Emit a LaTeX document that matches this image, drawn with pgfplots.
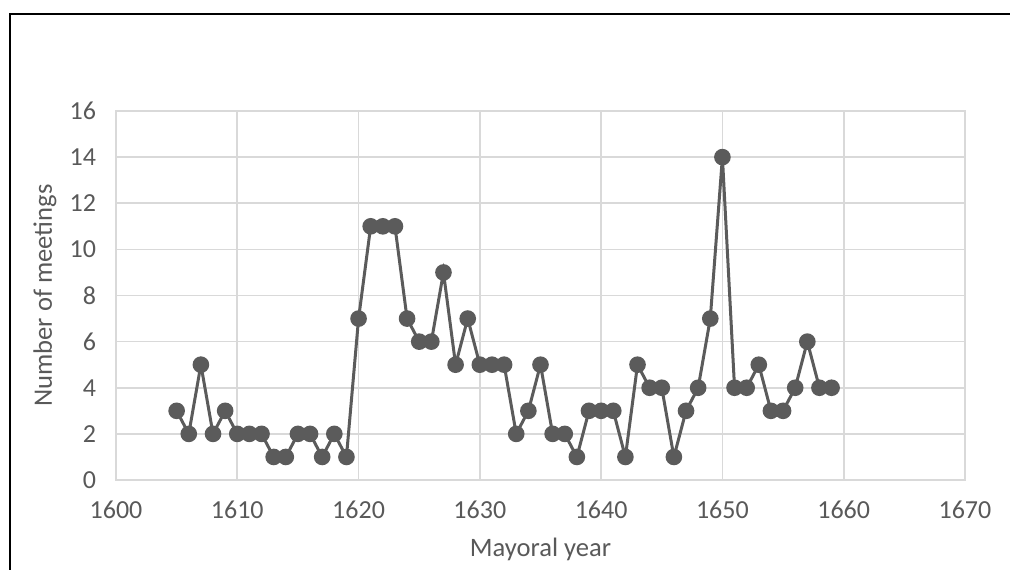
\documentclass[border=0pt]{standalone}
\usepackage{pgfplots}
\pgfplotsset{compat=1.18}
\usepackage{fontspec}
\setmainfont{Carlito}
\definecolor{txt}{HTML}{595959}
\definecolor{grd}{HTML}{D9D9D9}
\definecolor{ln}{HTML}{5B5B5B}
\begin{document}
\begin{tikzpicture}[x=0.5pt,y=0.5pt]
\useasboundingbox (0,0) rectangle (1010,569);
\begin{scope}
\clip (0,0) rectangle (1010,569);
\draw[black,line width=1.2pt] (10,-20) -- (10,555) -- (1030,555);
\end{scope}
\begin{axis}[
  at={(58pt,44.5pt)}, anchor=south west,
  scale only axis, width=424.5pt, height=184.5pt,
  xmin=1600, xmax=1670, ymin=0, ymax=16,
  xtick={1600,1610,...,1670}, ytick={0,2,...,16},
  grid=major, major grid style={grd, line width=0.8pt},
  axis line style={grd, line width=0.8pt},
  tick style={draw=none},
  /pgf/number format/assume math mode=true,
  /pgf/number format/set thousands separator={},
  ticklabel style={font=\fontsize{13}{15}\selectfont, text=txt},
  xticklabel style={yshift=-7pt},
  yticklabel style={xshift=-6.5pt},
  xlabel={Mayoral year}, ylabel={Number of meetings},
  label style={font=\fontsize{13.3}{16}\selectfont, text=txt},
  xlabel style={at={(axis description cs:0.5,-0.187)}, anchor=center},
  ylabel style={at={(axis description cs:-0.0836,0.5)}, anchor=center, rotate=0},
]
\addplot[ln, line width=1.5pt, mark=*, mark size=3.4pt, mark options={fill=ln, draw=ln}] coordinates {
(1605,3)(1606,2)(1607,5)(1608,2)(1609,3)(1610,2)(1611,2)(1612,2)(1613,1)(1614,1)
(1615,2)(1616,2)(1617,1)(1618,2)(1619,1)(1620,7)(1621,11)(1622,11)(1623,11)(1624,7)
(1625,6)(1626,6)(1627,9)(1628,5)(1629,7)(1630,5)(1631,5)(1632,5)(1633,2)(1634,3)
(1635,5)(1636,2)(1637,2)(1638,1)(1639,3)(1640,3)(1641,3)(1642,1)(1643,5)(1644,4)
(1645,4)(1646,1)(1647,3)(1648,4)(1649,7)(1650,14)(1651,4)(1652,4)(1653,5)(1654,3)
(1655,3)(1656,4)(1657,6)(1658,4)(1659,4)
};
\end{axis}
\end{tikzpicture}
\end{document}
